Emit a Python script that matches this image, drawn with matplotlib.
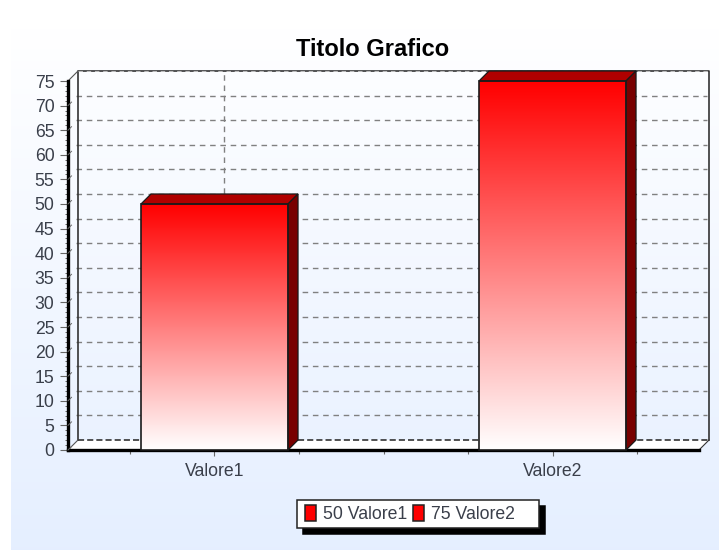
import numpy as np
import matplotlib
matplotlib.use("Agg")
import matplotlib.pyplot as plt
from matplotlib.patches import Polygon, Patch, Rectangle
from matplotlib.legend_handler import HandlerPatch
from matplotlib.transforms import Affine2D

categories = ["Valore1", "Valore2"]
values = [50, 75]
title = "Titolo Grafico"
y_major = list(range(0, 80, 5))
y_minor = list(range(0, 76, 1))
x_minor = [-0.25, 0.25, 0.5, 0.75, 1.25]

W, H = 719, 550
DEPTH = 10
plt.rcParams["font.family"] = ["Liberation Sans", "DejaVu Sans"]
TEXT = "#3a3f4a"

fig = plt.figure(figsize=(W / 100, H / 100), dpi=100, facecolor="white")

# background gradient
bg = fig.add_axes([0, 0, 1, 1], zorder=0)
bg.set_xlim(0, W); bg.set_ylim(H, 0); bg.axis("off")
grad = np.zeros((256, 1, 3))
t = np.linspace(0, 1, 256)[:, None]
top = np.array([1.0, 1.0, 1.0]); bot = np.array([0.898, 0.937, 1.0])
grad[:, 0, :] = top + (bot - top) * t
bg.imshow(grad, extent=[11, W, H, 28], aspect="auto", interpolation="bilinear")
bg.set_xlim(0, W); bg.set_ylim(H, 0)

ax = fig.add_axes([68 / W, (H - 450) / H, 631 / W, 369 / H], zorder=1)
ax.patch.set_alpha(0)
ax.set_xlim(-0.4334, 1.4334)
ax.set_ylim(0, 75)
fig.canvas.draw()

back = ax.transData + Affine2D().translate(DEPTH, DEPTH)
x0, x1 = ax.get_xlim()
GRID = "#808080"
DASH = (0, (4, 3.4))

# floor
dx = DEPTH / (ax.transData.transform((1, 0))[0] - ax.transData.transform((0, 0))[0])
dy = DEPTH / (ax.transData.transform((0, 1))[1] - ax.transData.transform((0, 0))[1])
ax.add_patch(Polygon([(x0, 0), (x0 + dx, dy), (x1 + dx, dy), (x1, 0)], closed=True,
                     facecolor="white", edgecolor="none", zorder=1, clip_on=False))

# back wall gridlines
for v in y_major[1:-1]:
    ax.plot([x0 - 0.006, x1 - 0.006], [v, v], transform=back, color=GRID, lw=1,
            ls=DASH, clip_on=False, zorder=1.2)
for c in range(len(categories)):
    ax.plot([c, c], [0, 75], transform=back, color=GRID, lw=1, ls=DASH,
            clip_on=False, zorder=1.2)
ax.plot([x0, x1], [0, 0], transform=back, color="#222222", lw=1.1, ls=(0, (4, 2)),
        clip_on=False, zorder=1.3)

# back wall frame
ax.plot([x0, x0, x1, x1], [0, 75, 75, 0], transform=back, color="#333333", lw=1.2,
        clip_on=False, zorder=1.4)
ax.plot([x0, x1], [75, 75], transform=back, color="white", lw=0.8, ls=DASH,
        clip_on=False, zorder=1.5, alpha=0.6)
# depth connectors
ax.plot([x0, x0 + dx], [75, 75 + dy], color="#555555", lw=0.8, clip_on=False, zorder=1.4)
ax.plot([x0, x0 + dx], [0, dy], color="#555555", lw=0.8, clip_on=False, zorder=1.4)
ax.plot([x1, x1 + dx], [0, dy], color="#333333", lw=0.8, clip_on=False, zorder=1.4)
for v in y_major[:-1]:
    ax.plot([x0, x0 + dx * 0.35], [v, v + dy * 0.35], color="#666666", lw=0.7,
            clip_on=False, zorder=2.6)

# bars
bar_w = 0.435
red_grad = np.zeros((256, 1, 3))
red_grad[:, 0, 0] = 1.0
red_grad[:, 0, 1] = np.linspace(0, 1, 256)
red_grad[:, 0, 2] = np.linspace(0, 1, 256)
for i, v in enumerate(values):
    l, r = i - bar_w / 2, i + bar_w / 2
    ax.imshow(red_grad, extent=[l, r, 0, v], aspect="auto", zorder=5,
              interpolation="bilinear", origin="upper")
    ax.add_patch(Rectangle((l, 0), bar_w, v, facecolor="none", edgecolor="#1a1a1a",
                           lw=1.2, zorder=6, clip_on=False))
    ax.add_patch(Polygon([(l, v), (l + dx, v + dy), (r + dx, v + dy), (r, v)], closed=True,
                         facecolor="#b00000", edgecolor="#1a1a1a", lw=0.9, zorder=5.5,
                         clip_on=False))
    ax.add_patch(Polygon([(r, 0), (r + dx, dy), (r + dx, v + dy), (r, v)], closed=True,
                         facecolor="#780000", edgecolor="#1a1a1a", lw=0.9, zorder=5.5,
                         clip_on=False))
ax.set_xlim(x0, x1)
ax.set_ylim(0, 75)
ax.set_aspect("auto")

# spines and ticks
for s in ("top", "right"):
    ax.spines[s].set_visible(False)
for s in ("left", "bottom"):
    ax.spines[s].set_color("black")
    ax.spines[s].set_linewidth(2.4)
    ax.spines[s].set_zorder(2.5)
ax.set_yticks(y_major)
ax.set_yticks(y_minor, minor=True)
ax.set_xticks(range(len(categories)))
ax.set_xticklabels(categories)
ax.set_xticks(x_minor, minor=True)
ax.tick_params(axis="y", which="major", length=5.5, width=0.8, color="#666666",
               labelsize=12.7, labelcolor=TEXT, pad=4.3)
ax.tick_params(axis="y", which="minor", length=2, width=0.7, color="#666666")
ax.tick_params(axis="x", which="major", length=4.5, width=0.8, color="#666666",
               labelsize=12.7, labelcolor=TEXT, pad=5)
ax.tick_params(axis="x", which="minor", length=3, width=0.8, color="#666666")

# title
fig.text(372.5 / W, 1 - 49.5 / H, title, ha="center", va="center", fontsize=17,
         fontweight="bold", color="black")

# legend
handles = [Patch(facecolor="#ff0000", edgecolor="#222222", lw=1.1) for _ in values]
labels = [f"{v} {c}" for v, c in zip(values, categories)]
labels[-1] += "    "
leg = fig.legend(handles, labels, ncol=2, loc="upper left",
                 bbox_to_anchor=(297 / W, 1 - 500 / H), bbox_transform=fig.transFigure,
                 fontsize=12.7, frameon=True, fancybox=False, framealpha=1,
                 facecolor="white", edgecolor="#222222", borderaxespad=0,
                 handlelength=0.79, handleheight=0.95, handletextpad=0.4,
                 columnspacing=0.12, borderpad=0.3,
                 handler_map={Patch: HandlerPatch(xpad=0.17)},
                 shadow={"color": "black", "alpha": 1, "ox": 4.3, "oy": -4.3})
leg.get_frame().set_linewidth(1.1)
for tx in leg.get_texts():
    tx.set_color(TEXT)

fig.savefig("out.png", dpi=100, facecolor="white")
